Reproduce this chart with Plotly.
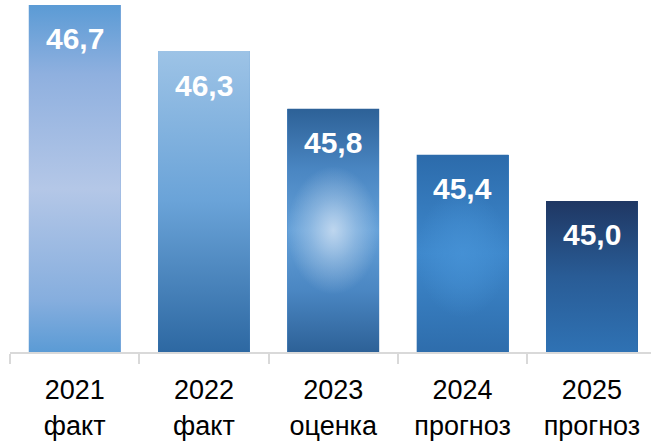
import plotly.graph_objects as go

years = ["2021", "2022", "2023", "2024", "2025"]
status = ["факт", "факт", "оценка", "прогноз", "прогноз"]
values = [46.7, 46.3, 45.8, 45.4, 45.0]
value_labels = ["46,7", "46,3", "45,8", "45,4", "45,0"]

# vertical gradient per bar (0 = bottom, 1 = top)
grad_scales = [
    [[0, "#5b9bd5"], [0.15, "#86aede"], [0.47, "#b4c7e7"], [0.8, "#8fb0df"], [1, "#5b9bd5"]],
    [[0, "#2d68a2"], [0.5, "#6aa3d8"], [1, "#9dc3e6"]],
    [[0, "#2d6197"], [0.25, "#4a86c2"], [0.5, "#64a0d8"], [0.75, "#4a86c2"], [1, "#2d6197"]],
    [[0, "#2e6dac"], [0.5, "#3e88cc"], [1, "#2c6bab"]],
    [[0, "#2f72b4"], [0.5, "#295c96"], [1, "#1f3763"]],
]
# radial highlight overlays (center colour, or None)
glow_colors = [None, None, "rgba(200,220,241,0.9)", "rgba(72,148,216,0.7)", None]
base_colors = ["#8fb2e0", "#5f97cf", "#5b94cf", "#3a7fc0", "#295c96"]

FONT = "Liberation Sans, Arial"
Y_MIN, Y_MAX = 43.69, 46.743
PX_PER_UNIT = 115.3
HALF = 0.355
GLOW_HALF = 64 / PX_PER_UNIT
xs = list(range(len(values)))

fig = go.Figure()
fig.add_trace(go.Bar(x=xs, y=values, width=2 * HALF, marker_color=base_colors,
                     marker_line_width=0, hoverinfo="skip", showlegend=False))

for i, v in enumerate(values):
    fig.add_trace(go.Scatter(
        x=[i - HALF, i + HALF, i + HALF, i - HALF, i - HALF],
        y=[Y_MIN, Y_MIN, v, v, Y_MIN],
        mode="lines", line=dict(width=0), fill="toself",
        fillgradient=dict(type="vertical", colorscale=grad_scales[i]),
        hoverinfo="skip", showlegend=False))
    if glow_colors[i]:
        c = (Y_MIN + v) / 2
        col = glow_colors[i]
        rgb = col.rsplit(",", 1)[0]
        fig.add_trace(go.Scatter(
            x=[i - HALF, i + HALF, i + HALF, i - HALF, i - HALF],
            y=[c - GLOW_HALF, c - GLOW_HALF, c + GLOW_HALF, c + GLOW_HALF, c - GLOW_HALF],
            mode="lines", line=dict(width=0), fill="toself",
            fillgradient=dict(type="radial",
                              colorscale=[[0, col], [0.5, rgb + ",0.4)"], [1, rgb + ",0)"]]),
            hoverinfo="skip", showlegend=False))

for i, (v, t) in enumerate(zip(values, value_labels)):
    fig.add_annotation(x=i, y=v, text=t, showarrow=False, yanchor="middle", yshift=-34,
                       font=dict(family=FONT, size=30, color="white", weight="bold"))

ticktext = [f"{y}<br>{s}" for y, s in zip(years, status)]

fig.update_layout(
    width=651, height=447,
    margin=dict(l=10, r=0, t=0, b=95),
    paper_bgcolor="white", plot_bgcolor="white",
    font=dict(family=FONT, color="black"),
    xaxis=dict(range=[-0.5, 4.457], tickvals=xs, ticktext=ticktext, ticks="",
               tickfont=dict(size=27, color="black"), automargin=False, ticklabelstandoff=13,
               showline=True, linecolor="#d9d9d9", linewidth=2, showgrid=False, zeroline=False,
               minor=dict(tickvals=[i - 0.5 for i in range(len(values) + 1)], ticks="outside",
                          ticklen=10, tickwidth=2, tickcolor="#d9d9d9", showgrid=False)),
    yaxis=dict(range=[Y_MIN, Y_MAX], visible=False, showgrid=False, zeroline=False,
               automargin=False),
    bargap=0,
)

fig.write_html("out.html", config={"displayModeBar": False},
               post_script="document.body.style.margin='0';")
